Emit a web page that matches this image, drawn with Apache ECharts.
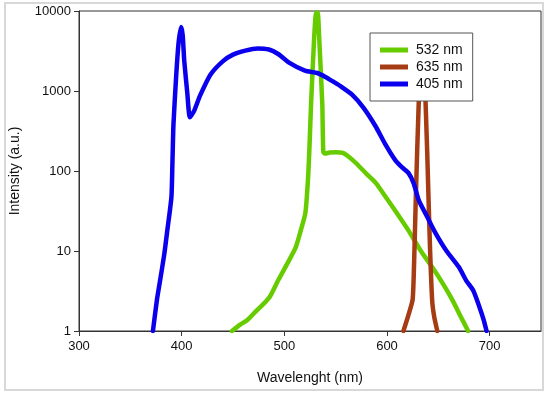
<!DOCTYPE html>
<html>
<head>
<meta charset="utf-8">
<script src="https://cdn.jsdelivr.net/npm/echarts@6/dist/echarts.min.js"></script>
<style>
html,body{margin:0;padding:0;background:#fff;}
#chart{width:550px;height:395px;}
</style>
</head>
<body>
<div id="chart"></div>
<script>
// Data
const seriesNames = ['532 nm', '635 nm', '405 nm'];
const xTicks = [300, 400, 500, 600, 700];

const greenX = [449,457,464,473,480,486,494,503,511,516,520.5,523,524.5,526,529,531,532.5,534,537,538,540,544,550,557,563,570,580,589,601,611,621,633,644,655,664,672,679];
const greenY = [1,1.2,1.37,1.8,2.2,2.7,4.3,7,11,18,30,77,200,670,4500,9500,9500,4500,670,172,165,170,172,168,150,125,92,71,43,28,18,10,6.3,3.8,2.4,1.5,1];

const redX = [616,621,625,626.5,628,631,634,637.5,640.5,642,644,646,649];
const redY = [1,1.6,2.5,8,43,770,3000,770,43,10,2.4,1.5,1];

const blueX = [372,376,379,383,386,390,391,392,394.6,397,399.5,401,402.5,405.5,408,412,418,428,440,450,462,474,485,494,505,520,532,540,548,556,566,577,589,598,608,615,621,626,631,639,647,658,670,677,684,690,694,697];
const blueY = [1,2.5,4.3,9,18,47,125,380,1500,4000,6300,5000,2400,940,470,560,880,1600,2350,2850,3200,3400,3300,2900,2250,1800,1680,1500,1300,1120,900,620,360,220,137,110,94,70,43,27,17,10,6.3,4.3,3.2,2,1.4,1];

function pairs(xs, ys){ return xs.map((x,i)=>[x, ys[i]]); }

const colors = ['#66cc00', '#a63c14', '#0a00ee'];
const chart = echarts.init(document.getElementById('chart'));
const font = 'Liberation Sans, Arial, sans-serif';

function mkSeries(name, xs, ys, color){
  return {
    name: name, type: 'line', data: pairs(xs, ys),
    showSymbol: false, symbol: 'none',
    smooth: 0.2,
    lineStyle: {color: color, width: 4.5, join: 'round', cap: 'round'},
    itemStyle: {color: color},
    clip: true
  };
}

chart.setOption({
  animation: false,
  backgroundColor: '#fff',
  graphic: [{
    type: 'rect', silent: true, z: -1,
    shape: {x: 5, y: 3, width: 538, height: 387},
    style: {fill: 'none', stroke: '#d8d8d8', lineWidth: 2}
  }],
  grid: {left: 79, right: 9, top: 11, bottom: 64, show: true, borderColor: '#333', borderWidth: 1, backgroundColor: 'transparent'},
  legend: {
    left: 370, top: 33, orient: 'vertical',
    data: seriesNames,
    icon: 'rect', itemWidth: 28, itemHeight: 5, itemGap: 3,
    padding: [10, 10, 10, 10],
    backgroundColor: '#fff', borderColor: '#555', borderWidth: 1,
    textStyle: {fontFamily: font, fontSize: 14, color: '#111', padding: [0,0,0,3]}
  },
  xAxis: {
    type: 'value', min: 300, max: 750,
    name: 'Wavelenght (nm)', nameLocation: 'middle', nameGap: 40,
    nameTextStyle: {fontFamily: font, fontSize: 14, color: '#111'},
    axisLine: {show: true, lineStyle: {color: '#333'}},
    axisTick: {show: true, length: 5, customValues: xTicks, lineStyle: {color: '#333'}},
    axisLabel: {customValues: xTicks, fontFamily: font, fontSize: 13, color: '#111', margin: 9},
    splitLine: {show: false}
  },
  yAxis: {
    type: 'log', logBase: 10, min: 1, max: 10000,
    name: 'Intensity (a.u.)', nameLocation: 'middle', nameGap: 57,
    nameTextStyle: {fontFamily: font, fontSize: 14, color: '#111'},
    axisLine: {show: true, lineStyle: {color: '#333'}},
    axisTick: {show: true, length: 5, lineStyle: {color: '#333'}},
    axisLabel: {fontFamily: font, fontSize: 13, color: '#111', margin: 8,
      formatter: function(v){ return String(Math.round(v)); }},
    splitLine: {show: false},
    minorTick: {show: false}
  },
  series: [
    mkSeries(seriesNames[0], greenX, greenY, colors[0]),
    mkSeries(seriesNames[1], redX, redY, colors[1]),
    mkSeries(seriesNames[2], blueX, blueY, colors[2])
  ]
});
</script>
</body>
</html>
